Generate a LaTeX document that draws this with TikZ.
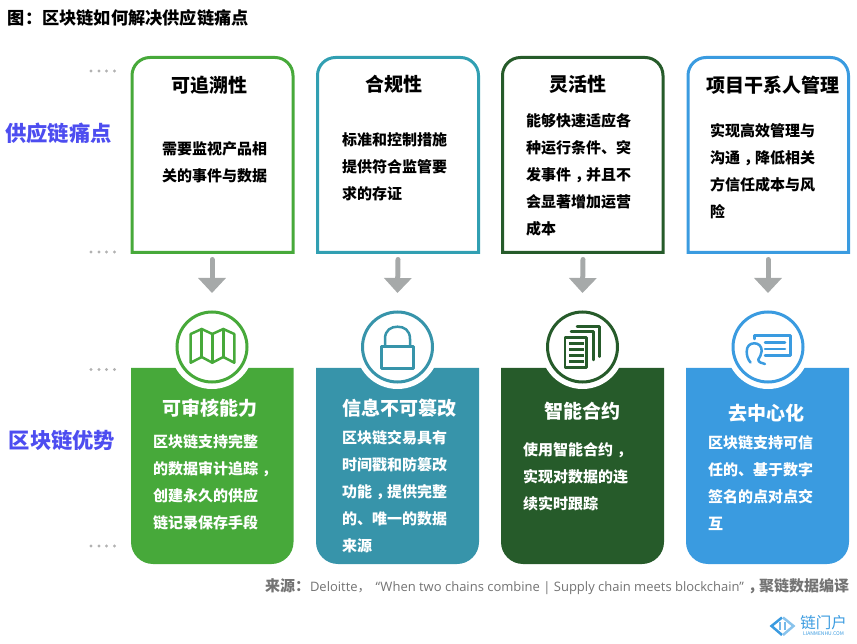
\documentclass[tikz,border=0pt]{standalone}
\usepackage{fontspec}
\setmainfont{Noto Sans CJK SC}
\newfontfamily\srcfont{Open Sans}
\usetikzlibrary{arrows.meta}
\definecolor{cgreen}{HTML}{47A93A}
\definecolor{cteal}{HTML}{3794AA}
\definecolor{cdark}{HTML}{265B2A}
\definecolor{cblue}{HTML}{3A9BE0}
\definecolor{cside}{HTML}{4D4DF0}
\definecolor{cflow}{HTML}{A6A9A9}
\tikzset{
	every node/.style={inner sep=0pt, outer sep=0pt},
	slot/.style={minimum width=162pt, minimum height=195pt},
	icon/.style={circle, draw=#1, fill=white, line width=3pt, minimum size=70pt},
	halo/.style={circle, fill=white, minimum size=84pt},
	glyph/.style={line width=2.5pt, line join=round, line cap=round},
	flow/.style={line width=5pt, color=cflow, line cap=round, -{Triangle[width=27pt,length=15pt]}},
	dot/.style={circle, fill=black!30, minimum size=3.2pt},
	head/.style={font=\fontsize{19}{24}\selectfont\bfseries},
	body/.style={anchor=west, align=left, font=\fontsize{15}{27}\selectfont\bfseries},
	side/.style={color=cside, font=\fontsize{21.3}{26}\selectfont\bfseries},
}
\def\painbox[#1](#2:#3){\draw[#1] (#2,252.5) -- (#3,252.5) -- (#3,150) [rounded corners=18pt] -- (#3,57.5) -- (#2,57.5) -- (#2,150) [sharp corners] -- cycle;}
\def\gainbox[#1](#2:#3){\fill[#1] (#2,368) -- (#3,368) -- (#3,450) [rounded corners=22pt] -- (#3,564) -- (#2,564) -- (#2,450) [sharp corners] -- cycle;}
\def\dou{\kern4pt ，\kern-4pt\relax}
\begin{document}
\begin{tikzpicture}[x=1pt, y=-1pt]
	%%%%% START %%%%%
	\useasboundingbox (0, 0) rectangle (857, 644);
	
	\node[anchor=west, font=\fontsize{17.2}{20}\selectfont\bfseries] (title) at (8, 18) {图：区块链如何解决供应链痛点};
	
	\node[side] (sidepain) at (58.5, 133) {供应链痛点};
	\node[side] (sidegain) at (62, 440) {区块链优势};
	
	\node[dot] (d11) at (91, 71) {};
	\node[dot] (d12) at (99, 71) {};
	\node[dot] (d13) at (106.5, 71) {};
	\node[dot] (d14) at (114.5, 71) {};
	\node[dot] (d21) at (91, 252) {};
	\node[dot] (d22) at (99, 252) {};
	\node[dot] (d23) at (106.5, 252) {};
	\node[dot] (d24) at (114.5, 252) {};
	\node[dot] (d31) at (91, 369.5) {};
	\node[dot] (d32) at (99, 369.5) {};
	\node[dot] (d33) at (106.5, 369.5) {};
	\node[dot] (d34) at (114.5, 369.5) {};
	\node[dot] (d41) at (91, 546) {};
	\node[dot] (d42) at (99, 546) {};
	\node[dot] (d43) at (106.5, 546) {};
	\node[dot] (d44) at (114.5, 546) {};
	
	% upper boxes
	\painbox[line width=3pt, color=cgreen](132:293);
	\painbox[line width=3pt, color=cteal!90!cyan](317.5:478.5);
	\painbox[line width=3pt, color=cdark](502.5:663);
	\painbox[line width=3pt, color=cblue](688:848.5);
	
	\node[slot] (painA) at (212, 155) {};
	\node[slot] (painB) at (398, 155) {};
	\node[slot] (painC) at (583, 155) {};
	\node[slot] (painD) at (768, 155) {};
	
	\node[head] (headA) at (209.5, 85) {可追溯性};
	\node[head] (headB) at (394, 84.5) {合规性};
	\node[head] (headC) at (578, 84.5) {灵活性};
	\node[head] (headD) at (773, 85) {项目干系人管理};
	
	\node[body] (textA) at (162, 162.2) {需要监视产品相\\关的事件与数据};
	\node[body] (textB) at (342, 166.7) {标准和控制措施\\提供符合监管要\\求的存证};
	\node[body] (textC) at (526, 174.7) {能够快速适应各\\种运行条件、突\\发事件\dou 并且不\\会显著增加运营\\成本};
	\node[body] (textD) at (710, 171.2) {实现高效管理与\\沟通\dou 降低相关\\方信任成本与风\\险};
	
	% lower boxes
	\gainbox[cgreen](131:293.5);
	\gainbox[cteal](316:479);
	\gainbox[cdark](501:664);
	\gainbox[cblue](686:849);
	
	\node[halo] (haloA) at (212, 347) {};
	\node[halo] (haloB) at (397.5, 347) {};
	\node[halo] (haloC) at (582.5, 347) {};
	\node[halo] (haloD) at (768, 347) {};
	
	\node[icon=cgreen] (iconA) at (212, 347) {};
	\node[icon=cteal] (iconB) at (397.5, 347) {};
	\node[icon=cdark] (iconC) at (582.5, 347) {};
	\node[icon=cblue] (iconD) at (768, 347) {};
	
	\draw[flow] ([yshift=-7pt]painA.south) -- ([yshift=19pt]iconA.north);
	\draw[flow] ([yshift=-7pt]painB.south) -- ([yshift=19pt]iconB.north);
	\draw[flow] ([yshift=-7pt]painC.south) -- ([yshift=19pt]iconC.north);
	\draw[flow] ([yshift=-7pt]painD.south) -- ([yshift=19pt]iconD.north);
	
	% map
	\draw[glyph, color=cgreen] (190.7, 334) -- (201.7, 329) -- (212.3, 334) -- (223.3, 329) -- (234.3, 334) -- (234.3, 362.7) -- (223.3, 357) -- (212.3, 362.7) -- (201.7, 357) -- (190.7, 362.7) -- cycle;
	\draw[glyph, color=cgreen] (201.7, 329) -- (201.7, 357);
	\draw[glyph, color=cgreen] (212.3, 334) -- (212.3, 362.7);
	\draw[glyph, color=cgreen] (223.3, 329) -- (223.3, 357);
	
	% lock
	\draw[glyph, color=cteal] (381.7, 346.7) rectangle (413.3, 368.3);
	\draw[glyph, color=cteal] (385, 346.7) -- (385, 339) .. controls (385, 330) and (391, 326.7) .. (397.5, 326.7) .. controls (404, 326.7) and (410, 330) .. (410, 339) -- (410, 346.7);
	
	% pages
	\draw[glyph, color=cdark] (565, 337.3) rectangle (586.7, 367.3);
	\draw[line width=2.5pt, color=cdark] (569.3, 343.3) -- (583.5, 343.3);
	\draw[line width=2.5pt, color=cdark] (569.3, 349.3) -- (583.5, 349.3);
	\draw[line width=2.5pt, color=cdark] (569.3, 355.3) -- (583.5, 355.3);
	\draw[line width=2.5pt, color=cdark] (569.3, 361.5) -- (583.5, 361.5);
	\draw[glyph, color=cdark] (571, 331.7) -- (593.3, 331.7) -- (593.3, 360);
	\draw[glyph, color=cdark] (577, 326.7) -- (599.3, 326.7) -- (599.3, 356.7);
	
	% card
	\draw[glyph, color=cblue] (754.3, 339) -- (754.3, 335.7) -- (790.7, 335.7) -- (790.7, 355.7) -- (765, 355.7);
	\draw[glyph, color=cblue] (765, 342.3) -- (785, 342.3);
	\draw[glyph, color=cblue] (765, 349) -- (785, 349);
	\draw[glyph, color=cblue] (750.5, 362.5) .. controls (747.5, 359) and (746.7, 355) .. (746.7, 351.7) .. controls (746.7, 346) and (750, 343.3) .. (754.3, 343.3) .. controls (758.5, 343.3) and (761.7, 346) .. (761.7, 351) .. controls (761.7, 354.5) and (759.5, 357) .. (758.3, 359.5) .. controls (758, 362) and (762, 363.5) .. (765, 364);
	
	\node[head, color=white] (gainA) at (210, 408) {可审核能力};
	\node[head, color=white] (gainB) at (399, 408) {信息不可篡改};
	\node[head, color=white] (gainC) at (582, 411) {智能合约};
	\node[head, color=white] (gainD) at (766, 413) {去中心化};
	
	\node[body, color=white] (noteA) at (153, 482.2) {区块链支持完整\\的数据审计追踪\dou \\创建永久的供应\\链记录保存手段};
	\node[body, color=white] (noteB) at (342, 491.7) {区块链交易具有\\时间戳和防篡改\\功能\dou 提供完整\\的、唯一的数据\\来源};
	\node[body, color=white] (noteC) at (523, 476.7) {使用智能合约\dou \\实现对数据的连\\续实时跟踪};
	\node[body, color=white] (noteD) at (708, 483.2) {区块链支持可信\\任的、基于数字\\签名的点对点交\\互};
	
	% source
	\node[anchor=east, color=black!55, font=\fontsize{15}{16}\selectfont] (source) at (849, 587) {{\bfseries 来源：}{\srcfont\fontsize{13}{16}\selectfont Deloitte}{\fontsize{13}{16}\selectfont ，\kern5pt}{\srcfont\fontsize{13}{16}\selectfont “When two chains combine | Supply chain meets blockchain”}{\bfseries\dou 聚链数据编译}};
	
	% logo
	\draw[line width=2.5pt, color=cblue] (782, 617.5) -- (771.5, 626) -- (782, 635);
	\draw[line width=2.5pt, color=cblue!60] (783, 617.5) -- (793.5, 626) -- (783, 635);
	\draw[line width=1.2pt, color=cblue!70] (780, 622) -- (780, 630);
	\draw[line width=1.2pt, color=cblue!70] (785, 622) -- (785, 630);
	\node[color=cblue, font=\fontsize{15.5}{16}\selectfont] (logotext) at (823.5, 623) {链门户};
	\node[color=cblue, font=\fontsize{5}{6}\selectfont] (logourl) at (823.5, 634) {LIANMENHU.COM};
	
	%%%%% END %%%%%
\end{tikzpicture}
\end{document}
